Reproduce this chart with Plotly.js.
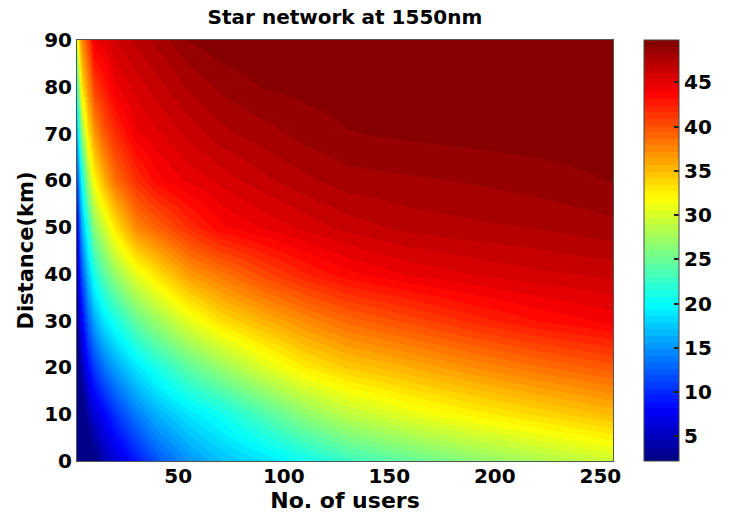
<!DOCTYPE html>
<html>
<head>
<meta charset="utf-8">
<script src="https://cdn.plot.ly/plotly-3.0.1.min.js"></script>
<style>html,body{margin:0;padding:0;background:#fff;}#chart{width:729px;height:513px;}</style>
</head>
<body>
<div id="chart"></div>
<script>
// Number of users (x) and distance in km (y)
const users = [2, 4, 7, 10, 15, 20, 30, 40, 55, 70, 90, 110, 130, 160, 190, 220, 256];
const distanceKm = [0, 10, 20, 30, 40, 50, 60, 70, 80, 90];

// Values, one row per distance
const rowL0  = [-3, -2, 0, 2, 4.5, 6, 9, 12, 15, 17, 18.5, 20.5, 22.6, 24.6, 26.4, 27.9, 29.5];
const rowL10 = [-0.9, 1.1, 4.2, 6.1, 8, 10.4, 13.9, 16.4, 18.8, 20.6, 23.6, 26.7, 28.8, 30.8, 32.3, 33.6, 35.1];
const rowL20 = [1.2, 4.3, 8.4, 10.8, 13.5, 15.7, 18.8, 21.2, 24.4, 27.1, 30.2, 32.7, 34.3, 35.7, 37.2, 38.5, 39.8];
const rowL30 = [3.3, 7.4, 12.8, 15.9, 18.9, 20.9, 24.6, 27.2, 30.7, 33.3, 35.4, 37.3, 38.9, 40.4, 41.9, 43.1, 44.1];
const rowL40 = [5.5, 11.3, 17.2, 21.1, 24.3, 27, 30.8, 33.3, 36.6, 38.3, 40.5, 42.3, 43.6, 44.7, 45.4, 45.9, 46.3];
const rowL50 = [7.6, 15.4, 22, 26.5, 29.7, 33, 37.6, 39.3, 41.8, 43.7, 44.7, 45.6, 46.4, 47.1, 47.4, 47.6, 48.1];
const rowL60 = [12, 19.6, 27.7, 32, 35.5, 38.7, 41.6, 43.6, 44.8, 45.6, 46.6, 47.4, 48, 48.2, 48.4, 48.7, 49.1];
const rowL70 = [17, 26, 33, 36.6, 39.7, 41.7, 44.4, 45.2, 46.3, 47.3, 48, 48.6, 49.0, 49.2, 49.35, 49.45, 49.5];
const rowL80 = [23.1, 32.5, 37.2, 40.8, 42.6, 44.4, 45.7, 46.5, 47.7, 48.5, 49.1, 49.3, 49.45, 49.6, 49.7, 49.8, 49.8];
const rowL90 = [31, 37.1, 40.7, 44.6, 45, 46.1, 47, 47.8, 49.1, 49.6, 49.8, 49.9, 50, 50, 50, 50, 50];

const colorbarTicks = [5, 10, 15, 20, 25, 30, 35, 40, 45];
const xTicks = [50, 100, 150, 200, 250];
const yTicks = [0, 10, 20, 30, 40, 50, 60, 70, 80, 90];

const zGrid = [rowL0, rowL10, rowL20, rowL30, rowL40, rowL50, rowL60, rowL70, rowL80, rowL90];

// MATLAB-like jet(64) stepped colorscale
function jet(t) {
  const f = v => Math.max(0, Math.min(1, 1.5 - Math.abs(v)));
  return 'rgb(' + Math.round(255 * f(4 * t - 3)) + ',' + Math.round(255 * f(4 * t - 2)) + ',' + Math.round(255 * f(4 * t - 1)) + ')';
}
const nColors = 64;
const jetScale = [];
for (let k = 0; k < nColors; k++) {
  const c = jet((k + 0.6) / nColors);
  jetScale.push([k / nColors, c]);
  jetScale.push([(k + 1) / nColors, c]);
}

const FAMILY = 'DejaVu Sans, Verdana, sans-serif';
const tickFont = {family: FAMILY, size: 20, color: '#000', weight: 'bold'};

const trace = {
  type: 'heatmap',
  x: users,
  y: distanceKm,
  z: zGrid,
  zsmooth: 'best',
  colorscale: jetScale,
  zmin: 2.2,
  zmax: 49.8,
  hoverinfo: 'skip',
  colorbar: {
    thickness: 35,
    thicknessmode: 'pixels',
    len: 1,
    lenmode: 'fraction',
    x: 1.057,
    xanchor: 'left',
    y: 0.5,
    yanchor: 'middle',
    xpad: 0,
    ypad: 0,
    outlinewidth: 1,
    outlinecolor: '#444',
    tickvals: colorbarTicks,
    ticks: 'inside',
    ticklen: 5,
    tickwidth: 2,
    tickcolor: '#222',
    tickfont: tickFont
  }
};

const layout = {
  width: 729,
  height: 513,
  margin: {l: 77, r: 112, t: 40, b: 52},
  paper_bgcolor: '#fff',
  plot_bgcolor: '#fff',
  title: {
    text: 'Star network at 1550nm',
    font: {family: FAMILY, size: 20, color: '#000', weight: 'bold'},
    x: 0.5, xref: 'paper', xanchor: 'center',
    y: 1 - 17 / 513, yref: 'container', yanchor: 'middle'
  },
  xaxis: {
    range: [2, 256],
    tickvals: xTicks,
    ticks: '',
    ticklabelstandoff: -3,
    showline: true, mirror: true, linecolor: '#555', linewidth: 1,
    showgrid: false, zeroline: false,
    tickfont: tickFont,
    title: {text: 'No. of users', font: {family: FAMILY, size: 22, color: '#000', weight: 'bold'}, standoff: 3}
  },
  yaxis: {
    range: [0, 90],
    tickvals: yTicks,
    ticks: '',
    showline: true, mirror: true, linecolor: '#555', linewidth: 1,
    showgrid: false, zeroline: false,
    tickfont: tickFont,
    title: {text: 'Distance(km)', font: {family: FAMILY, size: 21, color: '#000', weight: 'bold'}, standoff: 4}
  }
};

Plotly.newPlot('chart', [trace], layout, {staticPlot: true, displayModeBar: false});
</script>
</body>
</html>
